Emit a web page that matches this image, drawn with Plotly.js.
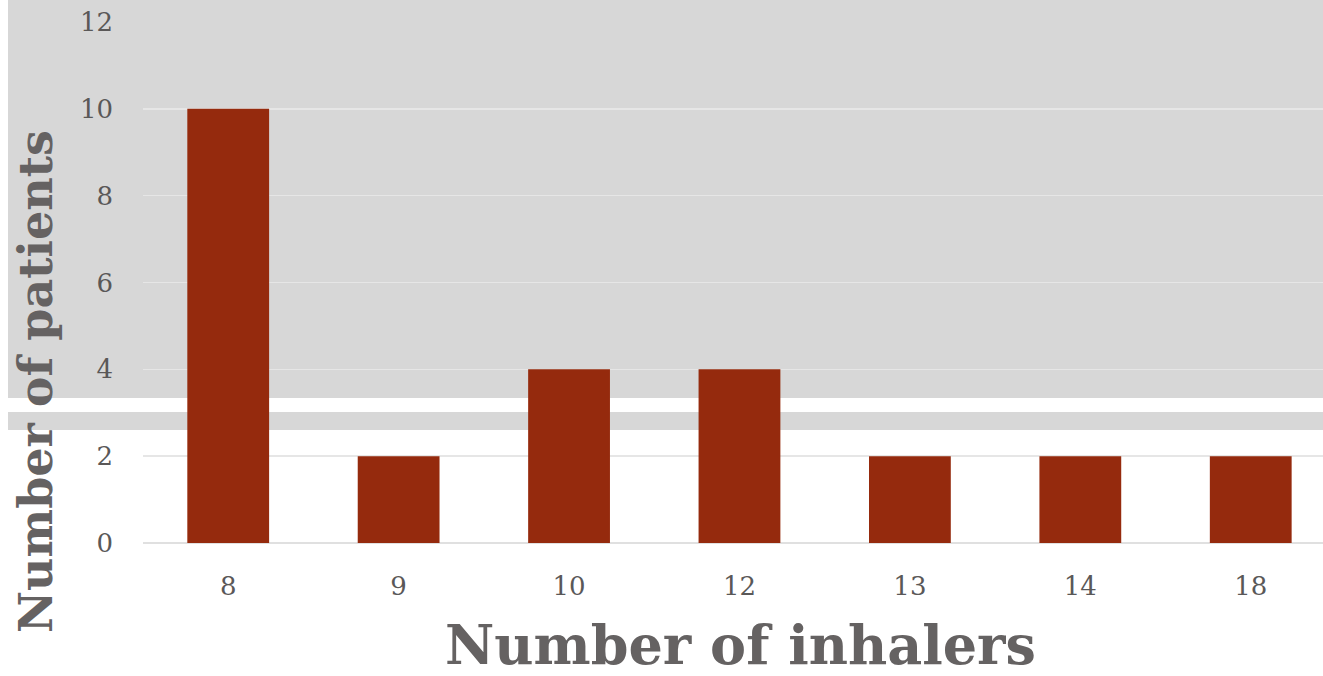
<!DOCTYPE html>
<html>
<head>
<meta charset="utf-8">
<script src="https://cdn.plot.ly/plotly-3.0.1.min.js"></script>
<style>
  html, body { margin: 0; padding: 0; background: #ffffff; }
  #chart { width: 1323px; height: 676px; }
</style>
</head>
<body>
<div id="chart"></div>
<script>
// Inhaler counts per patient
const inhalerCounts = ['8', '9', '10', '12', '13', '14', '18'];
const patientCounts = [10, 2, 4, 4, 2, 2, 2];
const yTickValues = [0, 2, 4, 6, 8, 10, 12];

const W = 1323, H = 676;
const M = { l: 143, r: 0, t: 22, b: 133 };
const plotW = W - M.l - M.r;
const plotH = H - M.t - M.b;
// pixel position -> paper coordinate (paper spans the plot area)
const px = (x) => (x - M.l) / plotW;
const py = (y) => (H - M.b - y) / plotH;

const barTrace = {
  type: 'bar',
  x: inhalerCounts,
  y: patientCounts,
  marker: { color: '#952a0d' },
  hoverinfo: 'x+y'
};

const tickFont = { family: 'DejaVu Serif, serif', size: 26, color: '#5a5858' };
const xTitleFont = { family: 'DejaVu Serif, serif', size: 54, color: '#656262', weight: 'bold' };
const yTitleFont = { family: 'DejaVu Serif, serif', size: 46, color: '#656262', weight: 'bold' };

// textured backdrop panels
const bgGray = '#d7d7d7';
const shapes = [
  { type: 'rect', xref: 'paper', yref: 'paper', x0: px(8), x1: px(W), y0: py(398), y1: py(0),
    fillcolor: bgGray, line: { width: 0 }, layer: 'below' },
  { type: 'rect', xref: 'paper', yref: 'paper', x0: px(8), x1: px(W), y0: py(430), y1: py(412),
    fillcolor: bgGray, line: { width: 0 }, layer: 'below' }
];

const layout = {
  width: W,
  height: H,
  margin: { l: M.l, r: M.r, t: M.t, b: M.b, pad: 0 },
  paper_bgcolor: '#ffffff',
  plot_bgcolor: 'rgba(0,0,0,0)',
  showlegend: false,
  bargap: 0.52,
  shapes: shapes,
  xaxis: {
    type: 'category',
    range: [-0.5, 6.424],
    showgrid: false,
    showline: false,
    zeroline: false,
    ticks: '',
    tickfont: tickFont,
    ticklabelstandoff: 25
  },
  yaxis: {
    range: [0, 12],
    tickvals: yTickValues,
    showgrid: true,
    gridcolor: '#e6e6e6',
    gridwidth: 1.5,
    zeroline: true,
    zerolinecolor: '#e0e0e0',
    zerolinewidth: 1.5,
    showline: false,
    ticks: '',
    tickfont: tickFont,
    ticklabelstandoff: 29
  },
  annotations: [
    { xref: 'paper', yref: 'paper', x: px(740), y: py(645), text: 'Number of inhalers',
      showarrow: false, font: xTitleFont, xanchor: 'center', yanchor: 'middle' },
    { xref: 'paper', yref: 'paper', x: px(36), y: py(382), text: 'Number of patients',
      showarrow: false, font: yTitleFont, textangle: -90, xanchor: 'center', yanchor: 'middle' }
  ]
};

Plotly.newPlot('chart', [barTrace], layout, { displayModeBar: false, staticPlot: true });
</script>
</body>
</html>
